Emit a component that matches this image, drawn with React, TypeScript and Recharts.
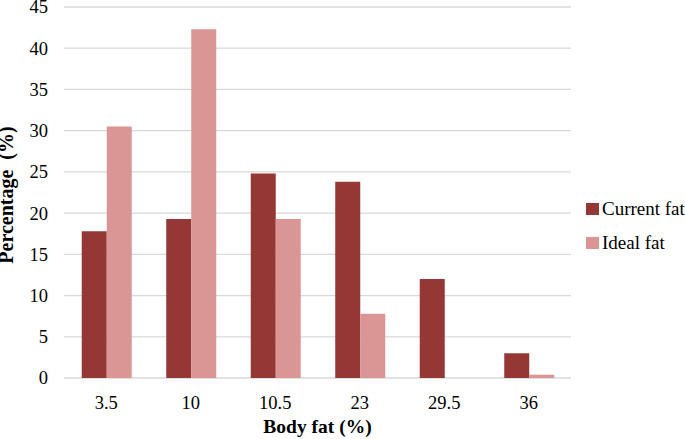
import React from 'react';
import { BarChart, Bar, XAxis, YAxis, CartesianGrid } from 'recharts';

const categories = ['3.5', '10', '10.5', '23', '29.5', '36'];
const currentFat = [17.8, 19.3, 24.8, 23.8, 12.0, 3.0];
const idealFat = [30.5, 42.3, 19.3, 7.8, 0, 0.4];
const yTicks = [0, 5, 10, 15, 20, 25, 30, 35, 40, 45];

const DARK = '#953735';
const LIGHT = '#D99694';
const FONT = "'Liberation Serif', 'Times New Roman', serif";

const data = categories.map((c, i) => ({ name: c, current: currentFat[i], ideal: idealFat[i] }));

const legendItems = [
  { label: 'Current fat', color: DARK },
  { label: 'Ideal fat', color: LIGHT },
];

const XTick = (props: any) => (
  <text x={props.x} y={props.y} dy="0.71em" textAnchor="middle" fontFamily={FONT} fontSize={18.5} fill="#000">
    {props.payload.value}
  </text>
);

const YTick = (props: any) => (
  <text x={props.x} y={props.y} dy="0.35em" textAnchor="end" fontFamily={FONT} fontSize={18.5} fill="#000">
    {props.payload.value}
  </text>
);

export default function App() {
  return (
    <div style={{ position: 'absolute', left: 0, top: 0, width: 685, height: 439, background: '#fff', fontFamily: FONT }}>
      <BarChart
        width={685}
        height={439}
        data={data}
        margin={{ top: 7, right: 114, bottom: 0, left: 0 }}
        barCategoryGap="21%"
        barGap={0}
      >
        <CartesianGrid horizontal vertical={false} stroke="#d9d9d9" strokeWidth={1.3} />
        <XAxis
          dataKey="name"
          height={61}
          axisLine={false}
          tickLine={false}
          tickSize={6}
          tickMargin={12}
          tick={<XTick />}
          label={{
            content: () => (
              <text x={317.5} y={433} textAnchor="middle" fontFamily={FONT} fontSize={19.5} fontWeight="bold" fill="#000">
                Body fat (%)
              </text>
            ),
          }}
        />
        <YAxis
          width={64}
          domain={[0, 45]}
          ticks={yTicks}
          interval={0}
          axisLine={false}
          tickLine={false}
          tickSize={6}
          tickMargin={10}
          tick={<YTick />}
          label={{
            content: () => (
              <text
                x={13}
                y={195}
                textAnchor="middle"
                transform="rotate(-90, 13, 195)"
                fontFamily={FONT}
                fontSize={20}
                fontWeight="bold"
                fill="#000"
              >
                {'Percentage\u00A0 (%)'}
              </text>
            ),
          }}
        />
        <Bar dataKey="current" name="Current fat" fill={DARK} isAnimationActive={false} />
        <Bar dataKey="ideal" name="Ideal fat" fill={LIGHT} isAnimationActive={false} />
      </BarChart>
      <div style={{ position: 'absolute', left: 586, top: 192, fontSize: 19, color: '#000', lineHeight: '20px' }}>
        {legendItems.map((it) => (
          <div key={it.label} style={{ display: 'flex', alignItems: 'center', height: 34 }}>
            <span style={{ display: 'inline-block', width: 13, height: 12, background: it.color, marginRight: 3 }} />
            <span>{it.label}</span>
          </div>
        ))}
      </div>
    </div>
  );
}
